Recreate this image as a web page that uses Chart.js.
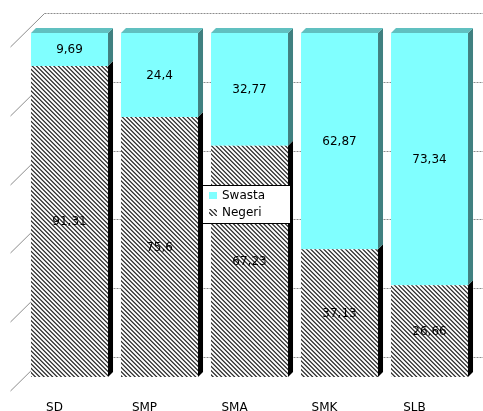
<!DOCTYPE html>
<html>
<head>
<meta charset="utf-8">
<script src="https://cdn.jsdelivr.net/npm/chart.js@4/dist/chart.umd.min.js"></script>
<style>
  html, body { margin: 0; padding: 0; background: #fff; }
  #wrap { position: relative; width: 483px; height: 411px; overflow: hidden; }
</style>
</head>
<body>
<div id="wrap"><canvas id="c" width="483" height="411"></canvas></div>
<script>
// School levels and the share of public (Negeri) vs private (Swasta) schools, in %
const categories = ['SD', 'SMP', 'SMA', 'SMK', 'SLB'];
const negeri = [91.31, 75.6, 67.23, 37.13, 26.66];
const swasta = [9.69, 24.4, 32.77, 62.87, 73.34];
const gridValues = [0, 20, 40, 60, 80, 100];

// 100% stacked: each column is scaled to its own total
const totals = categories.map((_, i) => negeri[i] + swasta[i]);
const negeriPct = negeri.map((v, i) => v / totals[i] * 100);
const swastaPct = swasta.map((v, i) => v / totals[i] * 100);

const FONT = '"DejaVu Sans", Verdana, sans-serif';
const DEPTH = 5;          // bar extrusion
const WALL_BACK = 20;     // back wall offset behind bar fronts
const WALL_FRONT = 14;    // side-wall front edge ahead of bar fronts

// Downward diagonal hatch: 3 stripes per 13px tile, antialiased by supersampling
function makeHatch() {
  const N = 13, STRIPES = 3, DUTY = 0.4, SS = 4;
  const t = document.createElement('canvas');
  t.width = N; t.height = N;
  const g = t.getContext('2d');
  const img = g.createImageData(N, N);
  for (let y = 0; y < N; y++) {
    for (let x = 0; x < N; x++) {
      let hit = 0;
      for (let sy = 0; sy < SS; sy++) {
        for (let sx = 0; sx < SS; sx++) {
          const u = (x + (sx + 0.5) / SS) - (y + (sy + 0.5) / SS);
          let p = (u * STRIPES / N) % 1;
          if (p < 0) p += 1;
          if (p < DUTY) hit++;
        }
      }
      const cov = hit / (SS * SS);
      const c = Math.round(255 - cov * (255 - 40));
      const k = (y * N + x) * 4;
      img.data[k] = img.data[k + 1] = img.data[k + 2] = c;
      img.data[k + 3] = 255;
    }
  }
  g.putImageData(img, 0, 0);
  return g.createPattern(t, 'repeat');
}
const ctx0 = document.getElementById('c').getContext('2d');
const hatch = makeHatch();

const wallPlugin = {
  id: 'wall',
  beforeDatasetsDraw(chart) {
    const { ctx, chartArea, scales } = chart;
    ctx.save();
    ctx.strokeStyle = '#8c8c8c';
    ctx.lineWidth = 1;
    gridValues.forEach(v => {
      const yf = Math.round(scales.y.getPixelForValue(v));
      const yb = yf - WALL_BACK + 0.5;
      ctx.setLineDash([2, 1]);
      ctx.beginPath();
      ctx.moveTo(chartArea.left + WALL_BACK, yb);
      ctx.lineTo(chart.width, yb);
      ctx.stroke();
      ctx.setLineDash([]);
      ctx.beginPath();
      ctx.moveTo(chartArea.left - WALL_FRONT, yf + WALL_FRONT);
      ctx.lineTo(chartArea.left + WALL_BACK, yb);
      ctx.stroke();
    });
    ctx.restore();
  }
};

const depthPlugin = {
  id: 'depth',
  afterDatasetsDraw(chart) {
    const { ctx } = chart;
    const last = chart.data.datasets.length - 1;
    ctx.save();
    chart.data.datasets.forEach((ds, di) => {
      const meta = chart.getDatasetMeta(di);
      meta.data.forEach(bar => {
        const { x, y, base, width } = bar.getProps(['x', 'y', 'base', 'width'], true);
        const l = x - width / 2, r = x + width / 2;
        ctx.fillStyle = ds.sideColor;
        ctx.beginPath();
        ctx.moveTo(r, y);
        ctx.lineTo(r + DEPTH, y - DEPTH);
        ctx.lineTo(r + DEPTH, base - DEPTH);
        ctx.lineTo(r, base);
        ctx.closePath();
        ctx.fill();
        if (di === last) {
          ctx.fillStyle = ds.topColor;
          ctx.beginPath();
          ctx.moveTo(l, y);
          ctx.lineTo(l + DEPTH, y - DEPTH);
          ctx.lineTo(r + DEPTH, y - DEPTH);
          ctx.lineTo(r, y);
          ctx.closePath();
          ctx.fill();
        }
      });
    });
    ctx.restore();
  }
};

const valueLabelPlugin = {
  id: 'valueLabels',
  afterDatasetsDraw(chart) {
    const { ctx } = chart;
    ctx.save();
    ctx.font = '12px ' + FONT;
    ctx.fillStyle = '#000';
    ctx.textAlign = 'center';
    ctx.textBaseline = 'middle';
    chart.data.datasets.forEach((ds, di) => {
      const meta = chart.getDatasetMeta(di);
      meta.data.forEach((bar, i) => {
        const { x, y, base } = bar.getProps(['x', 'y', 'base'], true);
        const text = String(ds.rawValues[i]).replace('.', ',');
        ctx.fillText(text, x, (y + base) / 2 + 0.5);
      });
    });
    ctx.restore();
  }
};

const legendPlugin = {
  id: 'boxLegend',
  afterDraw(chart) {
    const { ctx } = chart;
    const bx = 202.5, by = 185.5, bw = 88, bh = 38;
    ctx.save();
    ctx.fillStyle = '#fff';
    ctx.fillRect(bx, by, bw, bh);
    ctx.strokeStyle = '#000';
    ctx.lineWidth = 1;
    ctx.strokeRect(bx, by, bw, bh);
    const items = [chart.data.datasets[1], chart.data.datasets[0]];
    ctx.font = '12px ' + FONT;
    ctx.textBaseline = 'middle';
    ctx.textAlign = 'left';
    items.forEach((ds, k) => {
      const cy = by + 10.5 + k * 17;
      ctx.fillStyle = ds.backgroundColor;
      ctx.fillRect(bx + 6.5, cy - 4, 8, 7);
      ctx.fillStyle = '#000';
      ctx.fillText(ds.label, bx + 19.5, cy);
    });
    ctx.restore();
  }
};

new Chart(ctx0, {
  type: 'bar',
  data: {
    labels: categories,
    datasets: [
      {
        label: 'Negeri',
        data: negeriPct,
        rawValues: negeri,
        backgroundColor: hatch,
        sideColor: '#000000',
        topColor: '#000000',
        borderWidth: 0,
        barPercentage: 0.856,
        categoryPercentage: 1
      },
      {
        label: 'Swasta',
        data: swastaPct,
        rawValues: swasta,
        backgroundColor: '#80ffff',
        sideColor: '#408080',
        topColor: '#60c0c0',
        borderWidth: 0,
        barPercentage: 0.856,
        categoryPercentage: 1
      }
    ]
  },
  options: {
    responsive: false,
    animation: false,
    layout: { padding: { left: 24.5, right: 8.5, top: 33, bottom: 0 } },
    plugins: { legend: { display: false }, tooltip: { enabled: false } },
    scales: {
      x: {
        stacked: true,
        grid: { display: false, drawTicks: false },
        border: { display: false },
        ticks: { font: { family: FONT, size: 12 }, color: '#000', padding: 24, labelOffset: -15 },
        afterFit(s) { s.height = 34; }
      },
      y: {
        stacked: true,
        display: false,
        min: 0,
        max: 100
      }
    }
  },
  plugins: [wallPlugin, depthPlugin, valueLabelPlugin, legendPlugin]
});
</script>
</body>
</html>
